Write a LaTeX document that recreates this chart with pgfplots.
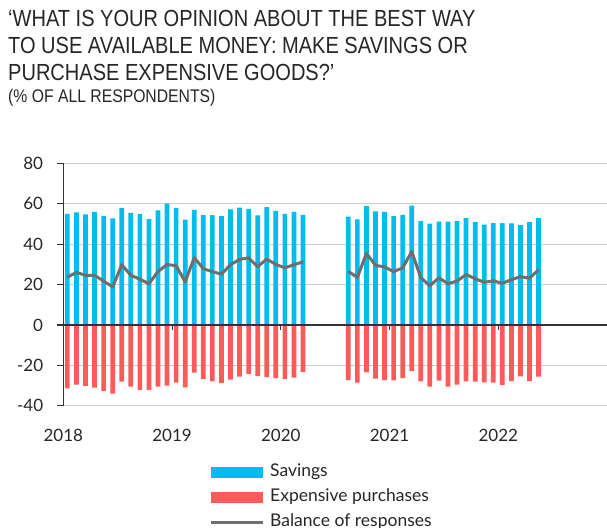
\documentclass[border=0pt]{standalone}
\usepackage{pgfplots}
\pgfplotsset{compat=1.18}
\usepackage{pgfplotstable}
\usepackage{fontspec}
\setmainfont{Lato}
\newfontfamily\titlefont[FakeStretch=0.86]{Liberation Sans}
\definecolor{savblue}{RGB}{0,189,235}
\definecolor{expred}{RGB}{255,90,90}
\definecolor{balgray}{RGB}{110,110,110}
\definecolor{gridgray}{RGB}{204,204,204}
\definecolor{axisdark}{RGB}{51,51,51}

\pgfplotstableread{
m sav exp bal
0 55.0 -31.4 23.6
1 55.7 -29.6 26.0
2 54.7 -30.2 24.5
3 55.9 -31.1 24.6
4 54.0 -32.7 21.7
5 52.7 -34.0 18.8
6 57.9 -28.1 29.8
7 55.4 -30.6 24.6
8 54.9 -32.2 22.6
9 52.4 -32.2 20.4
10 56.7 -30.6 26.4
11 60.0 -30.1 29.9
12 57.9 -28.6 29.3
13 52.1 -30.9 21.3
14 57.0 -23.6 33.3
15 54.4 -26.8 27.8
16 54.4 -27.9 26.4
17 53.9 -28.8 25.1
18 57.2 -27.1 29.8
19 58.0 -25.6 32.4
20 57.5 -24.3 33.2
21 54.2 -25.3 28.8
22 58.3 -25.8 32.6
23 56.4 -26.4 29.9
24 55.0 -26.8 28.3
25 56.0 -26.1 29.8
26 54.5 -23.3 31.2
}\segA

\pgfplotstableread{
m sav exp bal
31 53.6 -27.3 26.5
32 52.2 -28.6 23.5
33 58.8 -23.5 35.4
34 56.2 -26.6 29.5
35 55.9 -27.3 28.7
36 53.9 -27.4 26.4
37 54.5 -26.4 28.2
38 59.0 -22.8 36.3
39 51.4 -27.9 23.4
40 50.1 -30.6 19.4
41 51.1 -27.6 23.3
42 51.1 -30.6 20.4
43 51.4 -29.6 21.7
44 52.9 -27.9 24.9
45 50.9 -28.1 22.9
46 49.6 -28.4 21.1
47 50.4 -28.6 21.8
48 50.4 -29.8 20.6
49 50.2 -27.8 22.4
50 49.4 -25.5 23.9
51 50.9 -27.8 23.1
52 52.9 -25.6 27.3
}\segB

\begin{document}
\begin{tikzpicture}
\useasboundingbox (0,0) rectangle (607bp,-528bp);
\begin{scope}[every node/.style={anchor=base west, inner sep=0pt, font=\titlefont\fontsize{23.3bp}{27bp}\selectfont, text=black!85}]
\node at (8bp,-26bp) {‘WHAT IS YOUR OPINION ABOUT THE BEST WAY};
\node at (8bp,-53.3bp) {TO USE AVAILABLE MONEY: MAKE SAVINGS OR};
\node at (8bp,-80.6bp) {PURCHASE EXPENSIVE GOODS?’};
\node[font=\titlefont\fontsize{18.3bp}{22bp}\selectfont] at (8bp,-102.7bp) {(\% OF ALL RESPONDENTS)};
\end{scope}
\begin{axis}[
  at={(63.3bp,-405.7bp)}, anchor=south west,
  scale only axis, width=543.7bp, height=242.4bp,
  xmin=0, xmax=60, ymin=-40, ymax=80,
  axis lines*=left, axis line style={-},
  x axis line style={draw=none},
  y axis line style={draw=axisdark, line width=1.2bp},
  ytick={-40,-20,0,20,40,60,80},
  xtick={0,12,24,36,48}, xticklabels={2018,2019,2020,2021,2022},
  xtick style={draw=none},
  ytick style={draw=axisdark, line width=1.2bp},
  tick align=outside, major tick length=6bp,
  ymajorgrids, grid style={gridgray, line width=1.2bp},
  /pgf/number format/assume math mode=true,
  ticklabel style={font=\fontsize{17bp}{20bp}\selectfont, text=black!85},
  yticklabel style={anchor=east, inner sep=0pt, xshift=-14bp},
  xticklabel style={anchor=north, inner sep=0pt, yshift=-17bp},
  legend cell align=left,
  legend style={at={(0.268,-0.2413)}, anchor=north west, draw=none, fill=none,
    inner sep=0pt, font=\fontsize{17.5bp}{20bp}\selectfont, text=black!85,
    row sep=9bp, column sep=6bp,
    nodes={inner sep=0pt, text height=12.5bp, text depth=3.5bp}},
]
\addplot[ybar, bar width=4.7bp, bar shift=0pt, fill=savblue, draw=none,
  legend image code/.code={\fill[savblue] (0bp,-5.3bp) rectangle (52bp,5.3bp);}]
  table[x expr=\thisrow{m}+0.45, y=sav] {\segA};
\addlegendentry{Savings}
\addplot[ybar, bar width=4.7bp, bar shift=0pt, fill=expred, draw=none,
  legend image code/.code={\fill[expred] (0bp,-5.3bp) rectangle (52bp,5.3bp);}]
  table[x expr=\thisrow{m}+0.45, y=exp] {\segA};
\addlegendentry{Expensive purchases}
\addplot[balgray, line width=3bp, line join=round,
  legend image code/.code={\draw[balgray, line width=3bp] (0bp,0bp) -- (52bp,0bp);}]
  table[x expr=\thisrow{m}+0.45, y=bal] {\segA};
\addlegendentry{Balance of responses}
\addplot[ybar, bar width=4.7bp, bar shift=0pt, fill=savblue, draw=none, forget plot]
  table[x expr=\thisrow{m}+0.45, y=sav] {\segB};
\addplot[ybar, bar width=4.7bp, bar shift=0pt, fill=expred, draw=none, forget plot]
  table[x expr=\thisrow{m}+0.45, y=exp] {\segB};
\addplot[balgray, line width=3bp, line join=round, forget plot]
  table[x expr=\thisrow{m}+0.45, y=bal] {\segB};
\draw[axisdark, line width=1.2bp] (axis cs:0,0) -- (axis cs:60,0);
\draw[axisdark, line width=1bp] (axis cs:12,0) -- (axis cs:12,-2.3);
\draw[axisdark, line width=1bp] (axis cs:24,0) -- (axis cs:24,-2.3);
\draw[axisdark, line width=1bp] (axis cs:36,0) -- (axis cs:36,-2.3);
\draw[axisdark, line width=1bp] (axis cs:48,0) -- (axis cs:48,-2.3);
\end{axis}
\end{tikzpicture}
\end{document}
